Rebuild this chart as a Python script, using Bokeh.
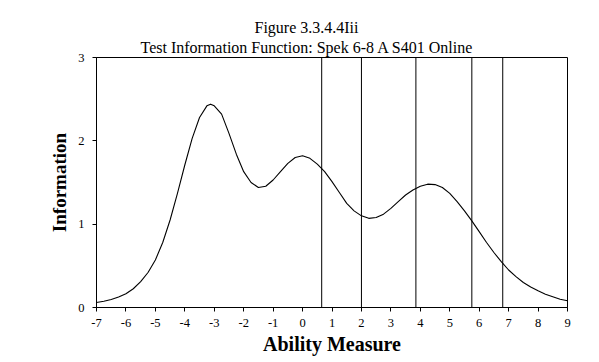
from bokeh.plotting import figure
from bokeh.models import Range1d, FixedTicker, Span, Title
from bokeh.embed import file_html
from bokeh.resources import INLINE

# ---- data ----
ability = [-7.00, -6.75, -6.50, -6.25, -6.00, -5.75, -5.50, -5.25, -5.00, -4.75,
           -4.50, -4.25, -4.00, -3.75, -3.50, -3.25, -3.125, -3.00, -2.75, -2.50,
           -2.25, -2.00, -1.75, -1.50, -1.25, -1.00, -0.75, -0.50, -0.25, 0.00,
           0.25, 0.50, 0.75, 1.00, 1.25, 1.50, 1.75, 2.00, 2.25, 2.50,
           2.75, 3.00, 3.25, 3.50, 3.75, 4.00, 4.25, 4.50, 4.75, 5.00,
           5.25, 5.50, 5.75, 6.00, 6.25, 6.50, 6.75, 7.00, 7.25, 7.50,
           7.75, 8.00, 8.25, 8.50, 8.75, 9.00]
information = [0.060, 0.075, 0.095, 0.125, 0.165, 0.225, 0.310, 0.420, 0.570, 0.780,
               1.050, 1.370, 1.710, 2.030, 2.280, 2.420, 2.440, 2.420, 2.320, 2.090,
               1.840, 1.630, 1.500, 1.440, 1.455, 1.530, 1.630, 1.730, 1.800, 1.820,
               1.790, 1.720, 1.630, 1.510, 1.380, 1.250, 1.160, 1.100, 1.070, 1.080,
               1.120, 1.190, 1.270, 1.350, 1.410, 1.455, 1.480, 1.475, 1.440, 1.370,
               1.270, 1.160, 1.040, 0.910, 0.780, 0.660, 0.550, 0.450, 0.370, 0.300,
               0.245, 0.200, 0.160, 0.130, 0.100, 0.080]
cut_scores = [0.65, 2.0, 3.85, 5.75, 6.8]
x_ticks = [-7, -6, -5, -4, -3, -2, -1, 0, 1, 2, 3, 4, 5, 6, 7, 8, 9]
y_ticks = [0, 1, 2, 3]
title_lines = ["Figure 3.3.4.4Iii", "Test Information Function: Spek 6-8 A S401 Online"]
x_label = "Ability Measure"
y_label = "Information"

SERIF = "Liberation Serif"

p = figure(width=599, height=362,
           x_range=Range1d(-7, 9), y_range=Range1d(0, 3),
           output_backend="svg", toolbar_location=None,
           min_border_left=96, min_border_right=32,
           min_border_top=57, min_border_bottom=55)
p.background_fill_color = "white"
p.border_fill_color = "white"
p.outline_line_color = "black"
p.outline_line_width = 1
p.xgrid.visible = False
p.ygrid.visible = False

for ax in (p.xaxis[0], p.yaxis[0]):
    ax.axis_line_color = "black"
    ax.major_tick_line_color = "black"
    ax.major_tick_in = 0
    ax.major_tick_out = 4
    ax.minor_tick_line_color = None
    ax.major_label_text_font = SERIF
    ax.major_label_text_font_size = "12.5px"
    ax.major_label_text_color = "black"
    ax.axis_label_text_font = SERIF
    ax.axis_label_text_font_style = "bold"
    ax.axis_label_text_color = "black"
p.xaxis.ticker = FixedTicker(ticks=x_ticks)
p.yaxis.ticker = FixedTicker(ticks=y_ticks)
p.xaxis.major_label_overrides = {t: str(t) for t in x_ticks}
p.yaxis.major_label_overrides = {t: str(t) for t in y_ticks}
p.xaxis.major_label_standoff = 7
p.yaxis.major_label_standoff = 8
p.xaxis.axis_label = x_label
p.yaxis.axis_label = y_label
p.xaxis.axis_label_text_font_size = "20px"
p.yaxis.axis_label_text_font_size = "19px"
p.xaxis.axis_label_standoff = 3
p.yaxis.axis_label_standoff = 5

for c in cut_scores:
    p.add_layout(Span(location=c, dimension="height", line_color="black", line_width=1))

p.line(ability, information, line_color="black", line_width=1.1, line_join="round")

# titles: first added sits closest to the plot
p.add_layout(Title(text=title_lines[1], align="left", offset=44, standoff=3,
                   text_font=SERIF, text_font_size="16px", text_font_style="normal",
                   text_color="black"), "above")
p.add_layout(Title(text=title_lines[0], align="left", offset=158, standoff=0,
                   text_font=SERIF, text_font_size="16px", text_font_style="normal",
                   text_color="black"), "above")

open("out.html", "w").write(file_html(p, INLINE))
